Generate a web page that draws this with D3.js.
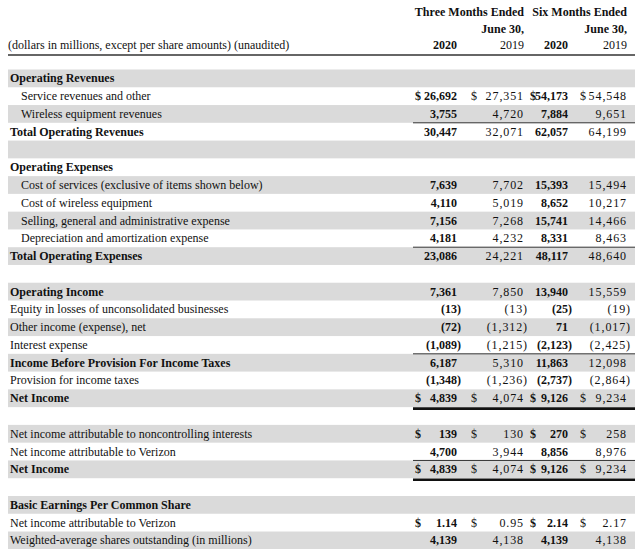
<!DOCTYPE html>
<html>
<head>
<meta charset="utf-8">
<script src="https://cdn.jsdelivr.net/npm/d3@7"></script>
<style>
  html, body { margin: 0; padding: 0; background: #ffffff; }
  svg { display: block; }
  text { font-family: "Liberation Serif", "Times New Roman", serif; fill: #111; }
</style>
</head>
<body>
<svg id="chart" width="640" height="549"></svg>
<script>
// ---------------- DATA ----------------
const headerLine1 = ["Three Months Ended", "Six Months Ended"];
const headerLine2 = ["June 30,", "June 30,"];
const columnYears = ["2020", "2019", "2020", "2019"];
const unitsLabel = "(dollars in millions, except per share amounts) (unaudited)";

const rowLabels = [
  "Operating Revenues",
  "Service revenues and other",
  "Wireless equipment revenues",
  "Total Operating Revenues",
  "",
  "Operating Expenses",
  "Cost of services (exclusive of items shown below)",
  "Cost of wireless equipment",
  "Selling, general and administrative expense",
  "Depreciation and amortization expense",
  "Total Operating Expenses",
  "",
  "Operating Income",
  "Equity in losses of unconsolidated businesses",
  "Other income (expense), net",
  "Interest expense",
  "Income Before Provision For Income Taxes",
  "Provision for income taxes",
  "Net Income",
  "",
  "Net income attributable to noncontrolling interests",
  "Net income attributable to Verizon",
  "Net Income",
  "",
  "Basic Earnings Per Common Share",
  "Net income attributable to Verizon",
  "Weighted-average shares outstanding (in millions)"
];

// kind: b = bold heading/total, i = indented item, p = plain item, e = empty
const rowKinds = ["b","i","i","b","e","b","i","i","i","i","b","e","b","p","p","p","b","p","b","e","p","p","b","e","b","p","p"];

const threeMonths2020 = [null, 26692, 3755, 30447, null, null, 7639, 4110, 7156, 4181, 23086, null, 7361, -13, -72, -1089, 6187, -1348, 4839, null, 139, 4700, 4839, null, null, 1.14, 4139];
const threeMonths2019 = [null, 27351, 4720, 32071, null, null, 7702, 5019, 7268, 4232, 24221, null, 7850, -13, -1312, -1215, 5310, -1236, 4074, null, 130, 3944, 4074, null, null, 0.95, 4138];
const sixMonths2020   = [null, 54173, 7884, 62057, null, null, 15393, 8652, 15741, 8331, 48117, null, 13940, -25, 71, -2123, 11863, -2737, 9126, null, 270, 8856, 9126, null, null, 2.14, 4139];
const sixMonths2019   = [null, 54548, 9651, 64199, null, null, 15494, 10217, 14466, 8463, 48640, null, 15559, -19, -1017, -2425, 12098, -2864, 9234, null, 258, 8976, 9234, null, null, 2.17, 4138];

const dollarRows = [1, 18, 20, 22, 25];
const decimalRows = [25];
const thinRulesAfter = [2, 9, 15, 21];
const thickRulesAfter = [18, 22];

// ---------------- DRAW ----------------
const W = 640, H = 549;
const svg = d3.select("#chart");
const FS = 12;
const LS = 0.9; // letter spacing for regular-weight figures

const columns = [
  { key: "q20", values: threeMonths2020, bold: true },
  { key: "q19", values: threeMonths2019, bold: false },
  { key: "h20", values: sixMonths2020, bold: true },
  { key: "h19", values: sixMonths2019, bold: false }
];
const colKeys = columns.map(c => c.key);

const y = d3.scaleBand()
  .domain(d3.range(rowLabels.length))
  .range([69.5, 69.5 + 17.77 * rowLabels.length])
  .paddingInner(0);

const valueRight = d3.scaleOrdinal().domain(colKeys).range([457, 524, 568, 627]);
const dollarLeft = d3.scaleOrdinal().domain(colKeys).range([415, 471, 530, 580]);
const headerY = d3.scalePoint().domain([0, 1, 2]).range([16, 49]);
const x = d3.scaleLinear().domain([0, 1]).range([8, 635]);
const ruleStart = 413;

// stripes
svg.append("g").selectAll("rect")
  .data(d3.range(rowLabels.length).filter(i => i % 2 === 0))
  .join("rect")
  .attr("x", x(0))
  .attr("y", d => y(d))
  .attr("width", x(1) - x(0))
  .attr("height", y.bandwidth())
  .attr("fill", "#dadada");

// header
const groupRight = [valueRight("q19"), valueRight("h19")];
svg.append("g").selectAll("text")
  .data(headerLine1)
  .join("text")
  .attr("x", (d, i) => groupRight[i])
  .attr("y", headerY(0))
  .attr("text-anchor", "end")
  .attr("font-size", FS)
  .attr("font-weight", "bold")
  .text(d => d);
svg.append("g").selectAll("text")
  .data(headerLine2)
  .join("text")
  .attr("x", (d, i) => groupRight[i])
  .attr("y", headerY(1))
  .attr("text-anchor", "end")
  .attr("font-size", FS)
  .attr("font-weight", "bold")
  .text(d => d);
svg.append("g").selectAll("text")
  .data(columns)
  .join("text")
  .attr("x", d => valueRight(d.key))
  .attr("y", headerY(2))
  .attr("text-anchor", "end")
  .attr("font-size", FS)
  .attr("font-weight", d => d.bold ? "bold" : "normal")
  .text((d, i) => columnYears[i]);
svg.append("text")
  .attr("x", 8)
  .attr("y", headerY(2))
  .attr("font-size", FS)
  .text(unitsLabel);
svg.append("line")
  .attr("x1", x(0)).attr("x2", x(1))
  .attr("y1", 55).attr("y2", 55)
  .attr("stroke", "#333").attr("stroke-width", 1.3);

// row labels
const rows = d3.range(rowLabels.length);
svg.append("g").selectAll("text")
  .data(rows.filter(i => rowKinds[i] !== "e"))
  .join("text")
  .attr("x", i => rowKinds[i] === "i" ? 21 : 10)
  .attr("y", i => y(i) + y.bandwidth() / 2 + 4)
  .attr("font-size", FS)
  .attr("font-weight", i => rowKinds[i] === "b" ? "bold" : "normal")
  .text(i => rowLabels[i]);

// values
const fmtInt = d3.format(",.0f");
const fmtDec = d3.format(",.2f");
function fmt(v, i) {
  const s = decimalRows.includes(i) ? fmtDec(Math.abs(v)) : fmtInt(Math.abs(v));
  return v < 0 ? "(" + s + ")" : s;
}
const cells = [];
columns.forEach(c => {
  c.values.forEach((v, i) => {
    if (v !== null && v !== undefined) cells.push({ col: c, v, i });
  });
});
const gVals = svg.append("g");
gVals.selectAll("text.val")
  .data(cells)
  .join("text")
  .attr("class", "val")
  .attr("x", d => valueRight(d.col.key) + (d.v < 0 ? 4 : 0))
  .attr("y", d => y(d.i) + y.bandwidth() / 2 + 4)
  .attr("text-anchor", "end")
  .attr("font-size", FS)
  .attr("font-weight", d => d.col.bold ? "bold" : "normal")
  .attr("letter-spacing", d => d.col.bold ? 0 : LS)
  .text(d => fmt(d.v, d.i));
gVals.selectAll("text.dollar")
  .data(cells.filter(d => dollarRows.includes(d.i)))
  .join("text")
  .attr("class", "dollar")
  .attr("x", d => dollarLeft(d.col.key))
  .attr("y", d => y(d.i) + y.bandwidth() / 2 + 4)
  .attr("font-size", FS)
  .attr("font-weight", d => d.col.bold ? "bold" : "normal")
  .text("$");

// rules
svg.append("g").selectAll("line")
  .data(thinRulesAfter)
  .join("line")
  .attr("x1", ruleStart).attr("x2", x(1))
  .attr("y1", i => y(i) + y.bandwidth())
  .attr("y2", i => y(i) + y.bandwidth())
  .attr("stroke", "#333").attr("stroke-width", 1);
svg.append("g").selectAll("line")
  .data(thickRulesAfter)
  .join("line")
  .attr("x1", ruleStart).attr("x2", x(1))
  .attr("y1", i => y(i) + y.bandwidth() + 1.5)
  .attr("y2", i => y(i) + y.bandwidth() + 1.5)
  .attr("stroke", "#111").attr("stroke-width", 2.6);
</script>
</body>
</html>
